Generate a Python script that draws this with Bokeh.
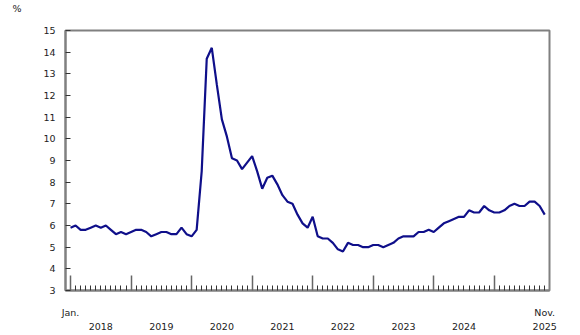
from bokeh.plotting import figure
from bokeh.models import Range1d, FixedTicker, LinearAxis, Title, CustomLabelingPolicy
from bokeh.embed import file_html
from bokeh.resources import INLINE

# Monthly rate (%), January 2018 to November 2025
rates_2018 = [5.9, 6.0, 5.8, 5.8, 5.9, 6.0, 5.9, 6.0, 5.8, 5.6, 5.7, 5.6]
rates_2019 = [5.7, 5.8, 5.8, 5.7, 5.5, 5.6, 5.7, 5.7, 5.6, 5.6, 5.9, 5.6]
rates_2020 = [5.5, 5.8, 8.5, 13.7, 14.2, 12.5, 10.9, 10.1, 9.1, 9.0, 8.6, 8.9]
rates_2021 = [9.2, 8.5, 7.7, 8.2, 8.3, 7.9, 7.4, 7.1, 7.0, 6.5, 6.1, 5.9]
rates_2022 = [6.4, 5.5, 5.4, 5.4, 5.2, 4.9, 4.8, 5.2, 5.1, 5.1, 5.0, 5.0]
rates_2023 = [5.1, 5.1, 5.0, 5.1, 5.2, 5.4, 5.5, 5.5, 5.5, 5.7, 5.7, 5.8]
rates_2024 = [5.7, 5.9, 6.1, 6.2, 6.3, 6.4, 6.4, 6.7, 6.6, 6.6, 6.9, 6.7]
rates_2025 = [6.6, 6.6, 6.7, 6.9, 7.0, 6.9, 6.9, 7.1, 7.1, 6.9, 6.5]

years = ["2018", "2019", "2020", "2021", "2022", "2023", "2024", "2025"]
y_ticks = [3, 4, 5, 6, 7, 8, 9, 10, 11, 12, 13, 14, 15]
first_month_label = "Jan."
last_month_label = "Nov."
unit_label = "%"

rates = (rates_2018 + rates_2019 + rates_2020 + rates_2021 +
         rates_2022 + rates_2023 + rates_2024 + rates_2025)
months = list(range(len(rates)))
n = len(rates)

FONT = "DejaVu Sans"
FS = "9.5px"
TXT = "#222222"
AXIS = "#808080"

p = figure(width=580, height=335, output_backend="svg", toolbar_location=None,
           x_range=Range1d(-1.0, n - 1 + 0.95), y_range=Range1d(3, 15),
           min_border_left=65, min_border_right=31, min_border_top=30,
           min_border_bottom=45)
p.title = None

main_x = p.below[0]
main_y = p.left[0]

p.line(months, rates, line_color="#0f0f8a", line_width=2.2)

p.xgrid.visible = False
p.ygrid.visible = False
p.outline_line_color = AXIS
p.outline_line_width = 2
p.background_fill_color = "white"
p.border_fill_color = "white"

# invisible spacer panel right above the frame, then the unit label above it
spacer = LinearAxis(ticker=FixedTicker(ticks=[months[0]], minor_ticks=[]))
spacer.axis_line_color = None
spacer.major_tick_line_color = None
spacer.minor_tick_line_color = None
spacer.major_tick_in = 0
spacer.major_tick_out = 13
spacer.minor_tick_out = 0
spacer.major_label_standoff = 0
spacer.major_label_text_font_size = "1px"
spacer.major_label_policy = CustomLabelingPolicy(code="return []")
p.add_layout(spacer, "above")
p.add_layout(Title(text=unit_label, align="left", offset=-53, standoff=0,
                   text_font=FONT, text_font_size=FS, text_font_style="normal",
                   text_color=TXT), "above")

# x axis: major tick at each January, minor tick each month, no labels
xa = main_x
xa.ticker = FixedTicker(ticks=[m for m in months if m % 12 == 0],
                        minor_ticks=[m for m in months if m % 12 != 0])
xa.axis_line_color = AXIS
xa.axis_line_width = 2
xa.major_tick_in = 15
xa.major_tick_out = 0
xa.major_tick_line_color = "#666666"
xa.major_tick_line_width = 1.5
xa.minor_tick_in = 5
xa.minor_tick_out = 0
xa.minor_tick_line_color = "#333333"
xa.minor_tick_line_width = 1
xa.major_label_policy = CustomLabelingPolicy(code="return []")
xa.major_label_text_font_size = "1px"
xa.major_label_standoff = 0

def label_axis(ticks, texts, standoff):
    ax = LinearAxis(ticker=FixedTicker(ticks=ticks, minor_ticks=[]),
                    major_label_overrides=dict(zip(ticks, texts)))
    ax.axis_line_color = None
    ax.major_tick_line_color = None
    ax.minor_tick_line_color = None
    ax.major_tick_in = 0
    ax.major_tick_out = 0
    ax.major_label_standoff = standoff
    ax.major_label_text_font = FONT
    ax.major_label_text_font_size = FS
    ax.major_label_text_color = TXT
    p.add_layout(ax, "below")
    return ax

# first row: first and last month; second row: years (mid-year, last at end)
label_axis([months[0], months[-1]], [first_month_label, last_month_label], 12)
year_pos = [12 * i + 6 for i in range(len(years) - 1)] + [months[-1]]
label_axis(year_pos, years, 2)

ya = main_y
ya.ticker = FixedTicker(ticks=y_ticks, minor_ticks=[])
ya.axis_line_color = AXIS
ya.axis_line_width = 2
ya.major_tick_in = 5
ya.major_tick_out = 0
ya.major_tick_line_color = "#333333"
ya.major_tick_line_width = 1
ya.minor_tick_line_color = None
ya.major_label_text_font = FONT
ya.major_label_text_font_size = FS
ya.major_label_text_color = TXT
ya.major_label_standoff = 10

open("out.html", "w").write(file_html(p, INLINE))
